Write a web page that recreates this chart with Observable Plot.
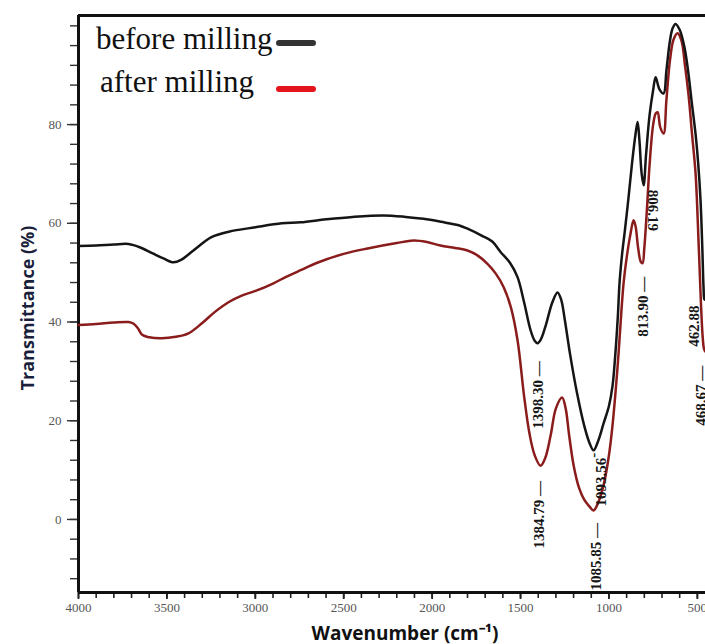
<!DOCTYPE html>
<html>
<head>
<meta charset="utf-8">
<script src="https://cdn.jsdelivr.net/npm/d3@7"></script>
<script src="https://cdn.jsdelivr.net/npm/@observablehq/plot@0.6"></script>
<style>
  html, body { margin: 0; padding: 0; background: #fff; }
  #wrap { position: relative; width: 705px; height: 644px; overflow: hidden; }
  #legend { position: absolute; left: 0; top: 0; font-family: "Liberation Serif", "Times New Roman", serif; color: #111; }
  .lg { position: absolute; white-space: nowrap; font-size: 31px; line-height: 1; }
  .sw { position: absolute; height: 6px; border-radius: 3px; }
  #chart svg g[aria-label="x-axis tick label"] text,
  #chart svg g[aria-label="y-axis tick label"] text,
  #chart svg g[aria-label="x-axis tick label"],
  #chart svg g[aria-label="y-axis tick label"] {
    font-family: "Liberation Serif", "Times New Roman", serif !important;
    font-size: 13px !important;
  }
</style>
</head>
<body>
<div id="wrap">
  <div id="chart"></div>
  <div id="legend"></div>
</div>
<script>
// ---- data ----
const seriesNames = ["before milling", "after milling"];

const beforeWavenumber = [4000,3900,3800,3717,3650,3580,3520,3463,3420,3350,3248,3150,3000,2850,2744,2600,2450,2275,2150,2049,1950,1850,1800,1720,1660,1613,1560,1517,1480,1443,1420,1404,1385,1360,1320,1291,1270,1250,1220,1180,1140,1110,1087,1060,1030,1000,980,965,950,940,925,910,890,870,850,838,828,815,804,790,770,750,736,715,691,675,655,640,623,600,575,555,530,510,495,482,472,465,460,454];
const beforeTransmittance = [55.4,55.5,55.7,55.8,55.1,53.9,52.9,52.1,52.6,54.5,57.2,58.3,59.2,60.0,60.2,60.8,61.3,61.6,61.3,60.9,60.3,59.6,58.9,57.5,56.3,54.2,52.0,49.1,44.0,38.3,36.2,35.7,36.5,39.0,44.0,46.0,44.5,40.5,33.5,25.5,19.0,15.5,14.0,16.0,19.5,23.0,27.0,33.0,41.0,48.0,54.0,58.5,65.0,72.0,78.0,80.5,77.0,70.0,67.7,74.0,82.0,87.0,89.6,87.2,86.3,91.0,97.0,99.5,100.4,99.2,96.0,91.6,84.0,78.0,72.0,64.6,55.0,47.0,44.6,44.5];

const afterWavenumber = [4000,3900,3800,3717,3690,3665,3640,3600,3530,3450,3378,3300,3230,3152,3080,2999,2900,2829,2744,2650,2500,2365,2200,2105,2030,1953,1870,1800,1740,1687,1640,1596,1555,1517,1480,1450,1420,1387,1360,1330,1300,1265,1245,1225,1200,1170,1140,1110,1087,1060,1030,1000,980,960,945,930,917,900,880,861,850,835,820,810,800,785,770,750,735,725,710,691,675,655,635,612,590,570,550,530,510,493,480,470,462,454];
const afterTransmittance = [39.4,39.6,39.9,40.0,39.7,38.8,37.4,36.9,36.7,37.0,37.7,39.8,42.0,44.0,45.3,46.3,47.8,49.1,50.5,52.0,53.8,54.9,56.0,56.5,56.2,55.5,55.0,54.5,53.4,51.8,49.8,47.1,43.0,36.3,25.0,17.5,13.0,10.9,12.5,17.0,22.5,24.7,22.5,17.0,11.0,6.5,4.0,2.6,1.8,3.5,7.0,13.0,19.0,27.0,34.0,42.0,48.0,53.0,57.5,60.6,59.5,55.0,52.2,51.9,55.0,63.0,72.0,80.0,82.3,82.5,79.5,78.2,85.0,93.0,97.2,98.5,97.0,92.0,86.0,78.0,70.0,56.0,44.0,37.0,34.5,34.0];

// peak annotations: label text, wavenumber, transmittance at the text anchor, rotation
const peakLabels  = ["1398.30 —", "1384.79 —", "1093.56", "-", "1085.85 —", "813.90 —", "806.19", "462.88", "468.67 —"];
const peakX       = [1398, 1392, 1044, 1087, 1075, 806, 752, 516, 478];
const peakY       = [18.4, -5.9, 2.6, 12.5, -14.4, 37.0, 66.8, 35.0, 19.0];
const peakRotate  = [-90, -90, -90, -90, -90, -90, 90, -90, -90];

const xMajorTicks = [4000, 3500, 3000, 2500, 2000, 1500, 1000, 500];
const yMajorTicks = [0, 20, 40, 60, 80];

// ---- build tables ----
const before = beforeWavenumber.map((w, i) => ({w, t: beforeTransmittance[i]}));
const after = afterWavenumber.map((w, i) => ({w, t: afterTransmittance[i]}));
const peaks = peakLabels.map((text, i) => ({text, w: peakX[i], t: peakY[i], r: peakRotate[i]}));

const xDom = [4000, 454];
const yDom = [-14.8, 102.1];
const serif = "'Liberation Serif', 'Times New Roman', serif";

const chart = Plot.plot({
  width: 705,
  height: 644,
  marginLeft: 78,
  marginRight: 0,
  marginTop: 15,
  marginBottom: 52,
  x: {domain: xDom},
  y: {domain: yDom},
  style: {background: "#fff", overflow: "visible"},
  marks: [
    // minor ticks
    Plot.axisX(d3.range(500, 4001, 100), {tickSize: 6, text: null, stroke: "#222", strokeWidth: 1.6, label: null}),
    Plot.axisX(xMajorTicks, {tickSize: 7, tickPadding: 3, tickFormat: d => String(d), stroke: "#222", strokeWidth: 1.8, fill: "#555", label: null}),
    Plot.axisY(d3.range(-12, 101, 4), {tickSize: 8, text: null, stroke: "#333", strokeWidth: 1.4, label: null}),
    Plot.axisY(yMajorTicks, {tickSize: 11, tickPadding: 6, tickFormat: d => String(d), stroke: "#333", strokeWidth: 1.4, fill: "#555", label: null}),
    // frame lines (left, bottom, top)
    Plot.ruleX([xDom[0]], {stroke: "#111", strokeWidth: 3}),
    Plot.ruleY([yDom[0]], {stroke: "#111", strokeWidth: 3.2}),
    Plot.ruleY([yDom[1]], {stroke: "#111", strokeWidth: 3}),
    // spectra
    Plot.line(after, {x: "w", y: "t", stroke: "#8a1c1c", strokeWidth: 2.5, curve: "catmull-rom"}),
    Plot.line(before, {x: "w", y: "t", stroke: "#151515", strokeWidth: 2.5, curve: "catmull-rom"}),
    // peak labels
    Plot.text(peaks, {x: "w", y: "t", text: "text", rotate: "r", textAnchor: "start", lineAnchor: "middle",
      fontFamily: serif, fontWeight: "bold", fontSize: 15, fill: "#151515"}),
    // axis titles
    Plot.text(["Transmittance (%)"], {frameAnchor: "left", textAnchor: "middle", lineAnchor: "middle", dx: -50, dy: 4, rotate: -90,
      fontFamily: "'Open Sans', sans-serif", fontWeight: "bold", fontSize: 18, fill: "#1b1f3b"}),
    Plot.text(["Wavenumber (cm⁻¹)"], {frameAnchor: "bottom", textAnchor: "middle", lineAnchor: "bottom", dx: 13, dy: 47,
      fontFamily: "'Open Sans', sans-serif", fontWeight: "bold", fontSize: 19, fill: "#111"})
  ]
});
document.getElementById("chart").appendChild(chart);

// legend (drawn inside the plot area, top-left)
const legend = document.getElementById("legend");
const legendItems = [
  {name: seriesNames[0], left: 96, top: 23, color: "#333", swLeft: 276, swTop: 40},
  {name: seriesNames[1], left: 100, top: 66, color: "#e3141c", swLeft: 276, swTop: 86}
];
for (const it of legendItems) {
  const t = document.createElement("div");
  t.className = "lg";
  t.textContent = it.name;
  t.style.left = it.left + "px";
  t.style.top = it.top + "px";
  legend.appendChild(t);
  const s = document.createElement("div");
  s.className = "sw";
  s.style.left = it.swLeft + "px";
  s.style.top = it.swTop + "px";
  s.style.width = "40px";
  s.style.background = it.color;
  legend.appendChild(s);
}
</script>
</body>
</html>
